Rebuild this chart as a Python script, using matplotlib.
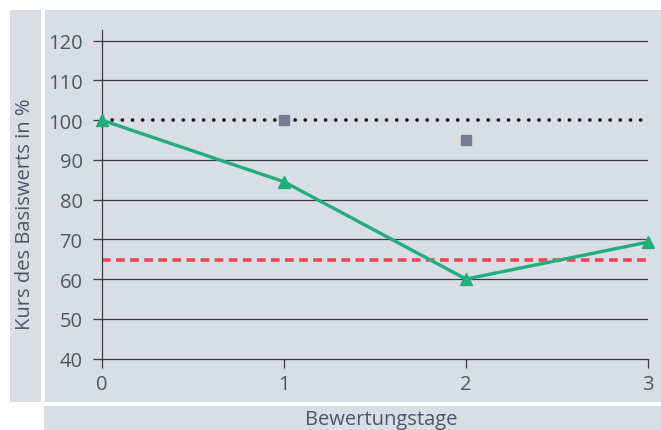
import matplotlib
matplotlib.use("Agg")
import matplotlib.pyplot as plt
from matplotlib.patches import Rectangle

plt.rcParams["font.family"] = ["Open Sans", "DejaVu Sans"]

BG = "#d9dde4"
TXT = "#4a5869"
GRID = "#3c3c3c"

W, H = 661, 431

# data
days = [0, 1, 2, 3]
kurs = [100, 84.5, 60, 69.3]
knock_in = 64.7          # red dashed barrier
start_level = 100        # black dotted line
square_days = [1, 2]
square_levels = [100, 95]
y_ticks = [40, 50, 60, 70, 80, 90, 100, 110, 120]


def px_rect(x0, y0, x1, y1):
    # rectangle given in image pixels (top-left origin) -> figure fraction
    return Rectangle((x0 / W, 1 - y1 / H), (x1 - x0) / W, (y1 - y0) / H,
                     transform=fig.transFigure, facecolor=BG, edgecolor="none", zorder=-10)


fig = plt.figure(figsize=(W / 100, H / 100), dpi=100)
fig.patch.set_facecolor("white")
fig.patches.append(px_rect(10, 11, 41, 403))
fig.patches.append(px_rect(45, 11, 661, 403))
fig.patches.append(px_rect(44, 407, 661, 431))

ax = fig.add_axes([102 / W, 1 - 359.5 / H, 546 / W, (359.5 - 31) / H])
ax.patch.set_alpha(0)

ax.set_xlim(0, 3)
ax.set_ylim(40, 122.7)

# grid lines; the 100 level is shown by the dotted line instead
for y in y_ticks[1:]:
    if y != start_level:
        ax.axhline(y, color=GRID, linewidth=0.9, zorder=1)

ax.plot([0, 3], [start_level, start_level], color="#1a1a1a", linewidth=2.7,
        linestyle=(0, (0.01, 2.7)), dash_capstyle="round", zorder=2, clip_on=False)
ax.plot([0, 3], [knock_in, knock_in], color="#f0464f", linewidth=2.6,
        linestyle=(0, (2.4, 1.5)), zorder=2, clip_on=False)
ax.plot(square_days, square_levels, linestyle="none", marker="s", markersize=7.5,
        color="#747d92", zorder=3)
ax.plot(days, kurs, color="#22ad7c", linewidth=2.4, marker="^", markersize=9,
        zorder=4, clip_on=False)

ax.set_xticks(days)
ax.set_yticks(y_ticks)
ax.tick_params(axis="both", colors=GRID, length=6.5, width=0.9,
               labelcolor=TXT, labelsize=14.5)
ax.tick_params(axis="y", pad=7.5)
ax.tick_params(axis="x", pad=4.5)

for s in ["top", "right"]:
    ax.spines[s].set_visible(False)
for s in ["left", "bottom"]:
    ax.spines[s].set_color(GRID)
    ax.spines[s].set_linewidth(0.9)

fig.text(25.5 / W, 1 - 214 / H, "Kurs des Basiswerts in %", rotation=90,
         ha="center", va="center", fontsize=14.5, color=TXT)
fig.text(381 / W, 1 - 420 / H, "Bewertungstage", ha="center", va="center",
         fontsize=14.5, color=TXT)

fig.savefig("out.png", dpi=100, facecolor="white")
